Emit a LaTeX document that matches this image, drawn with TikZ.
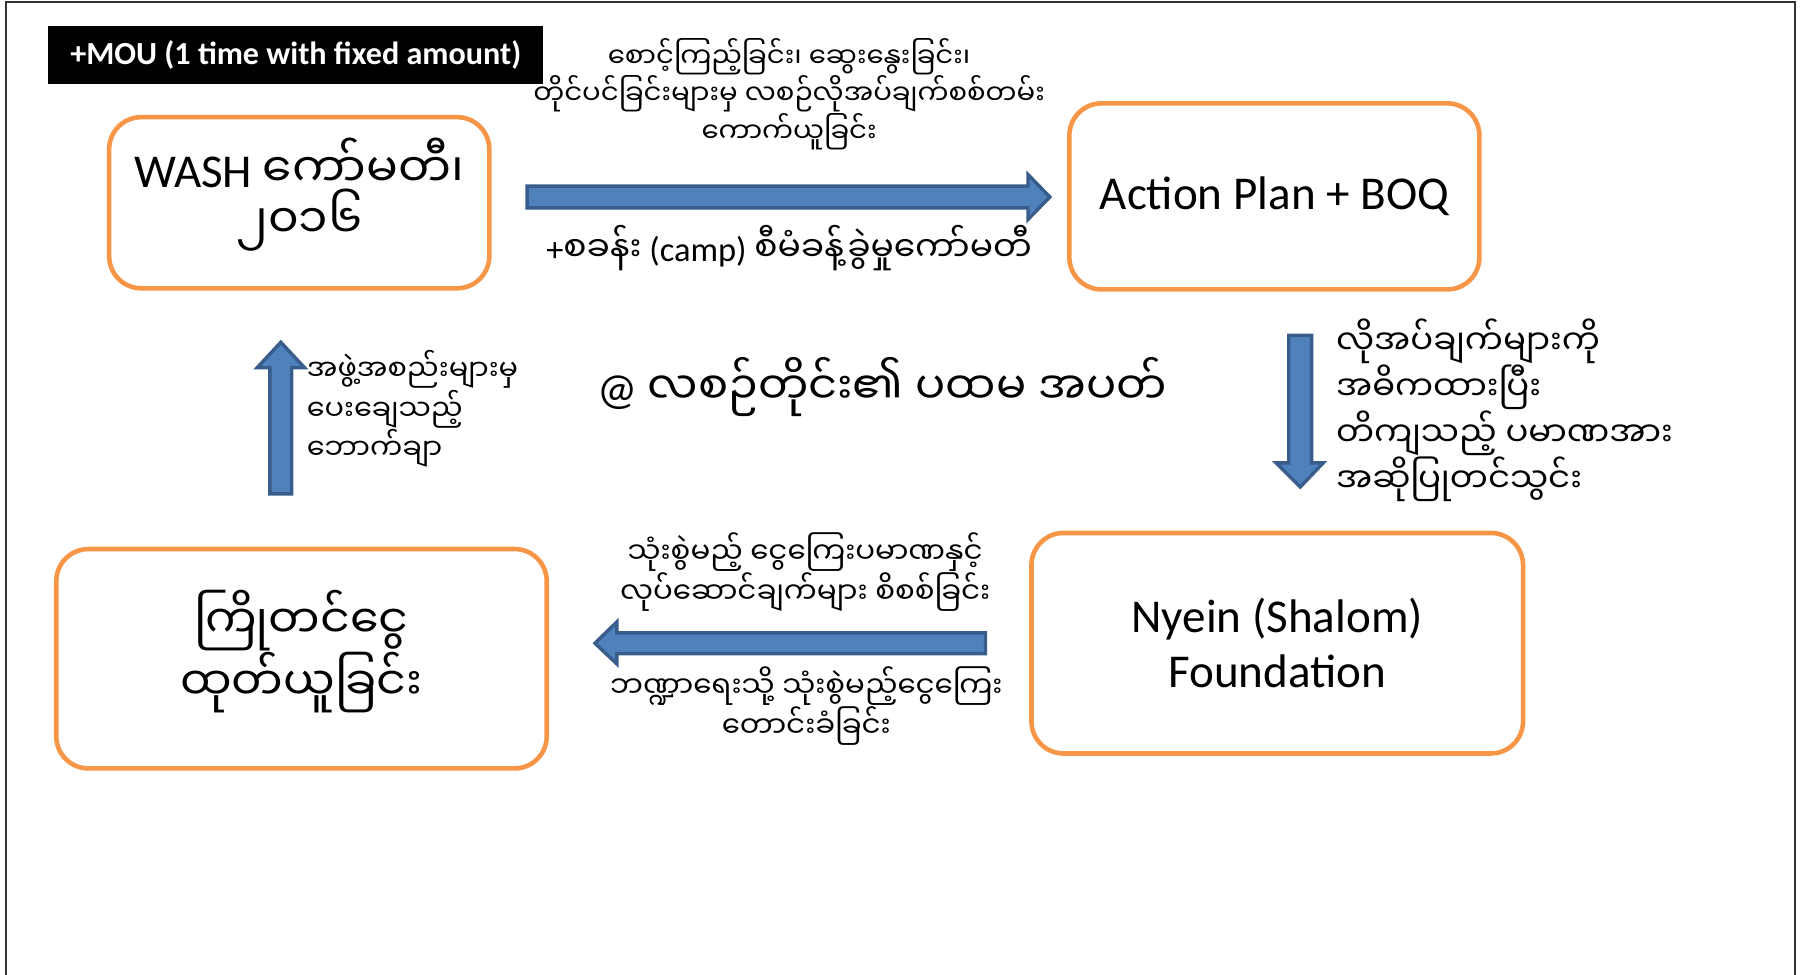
\documentclass[tikz,border=0pt]{standalone}
\usepackage{fontspec}
\setmainfont{Carlito}
\newfontfamily\my[Script=Myanmar]{Noto Sans Myanmar UI}
\definecolor{boxorange}{HTML}{F79646}
\definecolor{arrfill}{HTML}{4F81BD}
\definecolor{arrline}{HTML}{385D8A}
\tikzset{
  rbox/.style={draw=boxorange, line width=4pt, rounded corners=28pt, fill=white, align=center, inner sep=0pt},
  blockarrow/.style={draw=arrline, fill=arrfill, line width=3pt, line join=miter},
  lbl/.style={align=center, inner sep=0pt},
  big/.style={font=\fontsize{41}{48}\selectfont},
}
\begin{document}
\begin{tikzpicture}[x=1pt,y=-1pt]
\useasboundingbox (0,0) rectangle (1568,848);
% slide frame
\draw[line width=1.5pt, color=black!80] (5,900) -- (5,2) -- (1563,2) -- (1563,900);
% black title box
\node[fill=black, text=white, minimum width=431pt, minimum height=50pt, inner sep=0pt, font=\fontsize{28}{32}\bfseries\selectfont] (mou) at (257.5,48) {+MOU (1 time with fixed amount)};
% boxes
\node[rbox, minimum width=331pt, minimum height=149pt,
      label={[lbl, big, yshift=7pt]center:{WASH {\my ကော်မတီ၊}\\[-4pt]{\my ၂၀၁၆}}}] (wash) at (260.5,176.5) {};
\node[rbox, big, minimum width=357pt, minimum height=162pt] (plan) at (1109.5,171) {Action Plan + BOQ};
\node[rbox, big, minimum width=428pt, minimum height=192pt] (nyein) at (1112,560) {Nyein (Shalom)\\Foundation};
\node[rbox, minimum width=427pt, minimum height=191pt,
      label={[lbl, font=\fontsize{40}{45}\my, yshift=6pt]center:{ကြိုတင်ငွေ\\ထုတ်ယူခြင်း}}] (adv) at (262.5,573.5) {};
% block arrows
\draw[blockarrow] (459,162) -- (895,162) -- (895,152) -- (914,171.5) -- (895,191) -- (895,181) -- (459,181) -- cycle;
\draw[blockarrow] (1122,292) -- (1142,292) -- (1142,403) -- (1152,403) -- (1132,424) -- (1111,403) -- (1122,403) -- cycle;
\draw[blockarrow] (858,551) -- (537,551) -- (537,541.5) -- (518,560) -- (537,578) -- (537,569) -- (858,569) -- cycle;
\draw[blockarrow] (235,430) -- (235,320) -- (224,320) -- (244.5,298) -- (265,320) -- (254,320) -- (254,430) -- cycle;
% labels
\node[lbl, font=\fontsize{24}{30}\my] (toplbl) at (687,82) {စောင့်ကြည့်ခြင်း၊ ဆွေးနွေးခြင်း၊\\တိုင်ပင်ခြင်းများမှ လစဉ်လိုအပ်ချက်စစ်တမ်း\\ကောက်ယူခြင်း};
\node[lbl, font=\fontsize{30}{34}\selectfont] (camplbl) at (687,216) {+{\my စခန်း} (camp) {\my စီမံခန့်ခွဲမှုကော်မတီ}};
\node[lbl, anchor=west, align=left, font=\fontsize{29.5}{38}\my] (rightlbl) at (1163,357) {လိုအပ်ချက်များကို\\အဓိကထားပြီး\\တိကျသည့် ပမာဏအား\\အဆိုပြုတင်သွင်း};
\node[lbl, font=\fontsize{39}{46}\selectfont] (center) at (768,337) {@ {\my လစဉ်တိုင်း၏ ပထမ အပတ်}};
\node[lbl, anchor=west, align=left, font=\fontsize{25}{31}\my] (leftlbl) at (267,356) {အဖွဲ့အစည်းများမှ\\ပေးချေသည့်\\ဘောက်ချာ};
\node[lbl, font=\fontsize{25.5}{30}\my] (botlbl1) at (701,498) {သုံးစွဲမည့် ငွေကြေးပမာဏနှင့်\\လုပ်ဆောင်ချက်များ စိစစ်ခြင်း};
\node[lbl, font=\fontsize{25.5}{30}\my] (botlbl2) at (702,615) {ဘဏ္ဍာရေးသို့ သုံးစွဲမည့်ငွေကြေး\\တောင်းခံခြင်း};
\end{tikzpicture}
\end{document}
